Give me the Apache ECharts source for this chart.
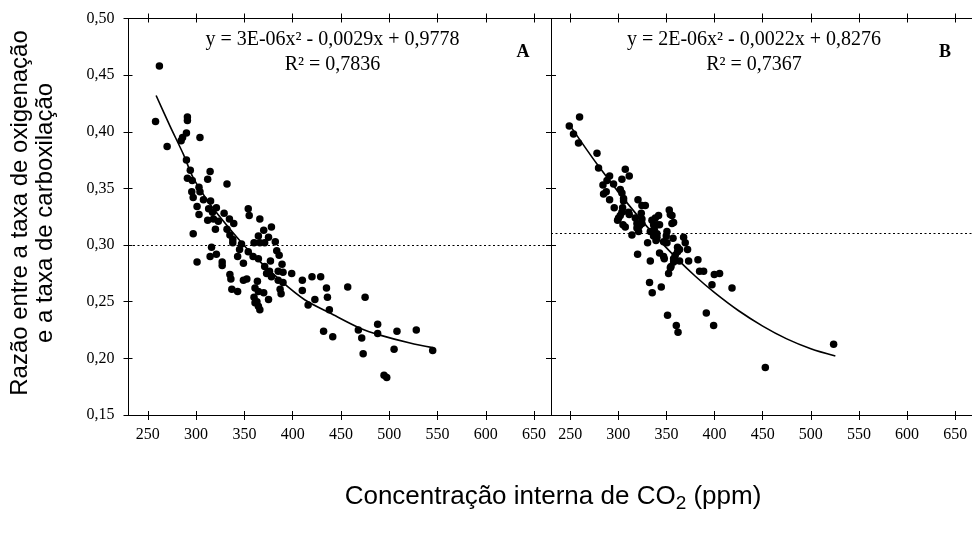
<!DOCTYPE html>
<html>
<head>
<meta charset="utf-8">
<script src="https://cdn.jsdelivr.net/npm/echarts@6/dist/echarts.min.js"></script>
<style>
  html, body { margin: 0; padding: 0; background: #fff; }
  #chart { width: 972px; height: 536px; }
</style>
</head>
<body>
<div id="chart"></div>
<script>
// Tick values shared by both panels
const xTicks = [250, 300, 350, 400, 450, 500, 550, 600, 650];
const yTicks = [0.15, 0.20, 0.25, 0.30, 0.35, 0.40, 0.45, 0.50];

// Panel A: internal CO2 concentration (ppm) and oxygenation/carboxylation ratio
const ciA = [
  262, 258, 291, 291, 290, 286, 284.5, 304, 270, 290,
  294, 314.5, 291, 296, 312, 332, 303, 295.5, 304, 297,
  307.6, 315, 301, 313, 321, 317, 303, 329, 354, 355,
  312, 318, 323, 334.5, 339, 366, 320, 332, 370, 378,
  335, 338, 364.5, 375, 297, 338, 347, 360, 366, 371,
  382, 316, 345, 354, 314.5, 321, 343, 359, 364.5, 383.5,
  386, 301, 327, 327, 349, 371, 377, 389, 335, 336,
  349, 352.5, 363.5, 373, 376, 378, 385, 390, 399, 385,
  390, 410, 420, 429, 337, 343, 361, 364.5, 370, 387,
  388, 410, 435, 457, 360, 363, 375, 364.5, 436, 423,
  475, 361, 416, 366, 438, 432, 441.5, 468, 471.5, 488,
  488, 508, 473, 505, 528, 545, 494.6, 497.4
];
const ratioA = [
  0.458, 0.409, 0.413, 0.410, 0.399, 0.395, 0.392, 0.395, 0.387, 0.375,
  0.366, 0.365, 0.359, 0.357, 0.358, 0.354, 0.351, 0.347, 0.347, 0.342,
  0.340, 0.339, 0.334, 0.332, 0.333, 0.329, 0.327, 0.328, 0.332, 0.326,
  0.322, 0.323, 0.321, 0.323, 0.319, 0.323, 0.314, 0.314, 0.313, 0.316,
  0.309, 0.305, 0.308, 0.307, 0.310, 0.302, 0.301, 0.302, 0.302, 0.302,
  0.303, 0.298, 0.296, 0.294, 0.290, 0.292, 0.290, 0.290, 0.288, 0.295,
  0.291, 0.285, 0.285, 0.282, 0.284, 0.281, 0.286, 0.283, 0.274, 0.270,
  0.269, 0.270, 0.268, 0.275, 0.277, 0.272, 0.277, 0.276, 0.275, 0.269,
  0.267, 0.269, 0.272, 0.272, 0.261, 0.259, 0.262, 0.259, 0.258, 0.261,
  0.257, 0.260, 0.262, 0.263, 0.254, 0.250, 0.252, 0.246, 0.254, 0.252,
  0.254, 0.249, 0.247, 0.243, 0.243, 0.224, 0.219, 0.225, 0.218, 0.230,
  0.222, 0.224, 0.204, 0.208, 0.225, 0.207, 0.185, 0.183
];

// Panel B
const ciB = [
  259.7, 249, 253.4, 258.6, 277.8, 279.4, 307.2, 311.3, 290.9, 288.2,
  303.7, 284, 295, 302, 303.7, 284.6, 287.4, 305.4, 305.4, 290.9,
  320.4, 324.5, 328, 295.7, 304.4, 310.6, 311.3, 303.7, 302, 323.8,
  300.2, 299.2, 317.6, 324.5, 334.9, 338.4, 341.8, 352.9, 354, 355.7,
  304.8, 307.2, 319.3, 322, 324.5, 336.6, 340.1, 342.8, 355.7, 357.4,
  319.3, 321, 333.2, 337.3, 340.1, 350.5, 314.1, 336.6, 340.1, 349.8,
  356.8, 367.8, 339.1, 330.4, 347, 350.5, 369.5, 361.5, 363.6, 371.9,
  320, 342.8, 347, 361.5, 359.1, 357.4, 347.7, 333.2, 357.4, 363.6,
  373, 382.7, 354.7, 354, 352.2, 384.4, 388.6, 399.7, 405.2, 332.4,
  344.6, 397.3, 418.1, 335.2, 351.1, 391.4, 360.2, 362, 399, 452.7, 523.7
];
const ratioB = [
  0.413, 0.405, 0.398, 0.390, 0.381, 0.368, 0.367, 0.361, 0.361, 0.357,
  0.358, 0.353, 0.354, 0.349, 0.346, 0.345, 0.347, 0.341, 0.339, 0.340,
  0.340, 0.335, 0.335, 0.333, 0.333, 0.329, 0.327, 0.329, 0.326, 0.328,
  0.324, 0.322, 0.324, 0.323, 0.322, 0.324, 0.326, 0.331, 0.327, 0.326,
  0.318, 0.316, 0.319, 0.317, 0.319, 0.318, 0.318, 0.318, 0.319, 0.320,
  0.315, 0.312, 0.312, 0.314, 0.310, 0.312, 0.309, 0.308, 0.307, 0.308,
  0.306, 0.307, 0.304, 0.302, 0.303, 0.302, 0.302, 0.298, 0.296, 0.296,
  0.292, 0.293, 0.290, 0.294, 0.291, 0.288, 0.288, 0.286, 0.285, 0.286,
  0.286, 0.287, 0.281, 0.280, 0.275, 0.277, 0.277, 0.274, 0.275, 0.267,
  0.263, 0.265, 0.262, 0.258, 0.238, 0.240, 0.229, 0.223, 0.229, 0.192, 0.2125
];

// Trend curves, as points along each fitted line
const trendCiA = [258.6, 273, 286.9, 297.2, 314.5, 335.2, 355.9, 387, 412.8, 438.7, 469.8, 490.5, 521.5, 545];
const trendRatioA = [0.432, 0.405, 0.380, 0.359, 0.336, 0.314, 0.294, 0.269, 0.2515, 0.240, 0.2266, 0.2205, 0.2135, 0.2095];
const trendCiB = [251.8, 277.8, 305.4, 333.2, 360.9, 380, 400, 425, 450, 475, 500, 525.5];
const trendRatioB = [0.403, 0.3715, 0.341, 0.313, 0.288, 0.2725, 0.258, 0.242, 0.2285, 0.2172, 0.2085, 0.202];

// Horizontal reference levels (dotted lines)
const refRatioA = 0.297;
const refRatioB = 0.311;

// Regression annotations
const eqA = ['y = 3E-06x² - 0,0029x + 0,9778', 'R² = 0,7836'];
const eqB = ['y = 2E-06x² - 0,0022x + 0,8276', 'R² = 0,7367'];
const panelTags = ['A', 'B'];

const yTitle = 'Razão entre a taxa de oxigenação\ne a taxa de carboxilação';

const zip = (a, b) => a.map((v, i) => [v, b[i]]);

const BLACK = '#000';
const SERIF = 'Liberation Serif';
const SANS = 'Liberation Sans';
const X_MIN = 230, X_MAX = 667.5;
const Y_MIN = 0.15, Y_MAX = 0.50;

const grids = [
  { left: 128.5, top: 18.5, width: 422.5, height: 396.5 },
  { left: 551, top: 18.5, width: 421, height: 396.5 }
];

// Ticks that cross the axis line are built from an outward and an inward axis pair
function xAxisPair(grid, position, labels) {
  const base = {
    type: 'value', gridIndex: grid, position, min: X_MIN, max: X_MAX,
    splitLine: { show: false }
  };
  return [
    Object.assign({}, base, {
      axisLine: { show: true, onZero: false, lineStyle: { color: BLACK, width: 1 } },
      axisTick: { show: true, inside: false, length: 5, customValues: xTicks, lineStyle: { color: BLACK } },
      axisLabel: labels
        ? { show: true, customValues: xTicks, margin: 12, color: BLACK, fontFamily: SERIF, fontSize: 16 }
        : { show: false }
    }),
    Object.assign({}, base, {
      axisLine: { show: false, onZero: false },
      axisTick: { show: true, inside: true, length: 4, customValues: xTicks, lineStyle: { color: BLACK } },
      axisLabel: { show: false }
    })
  ];
}

function yAxisPair(grid, position, labels) {
  const base = {
    type: 'value', gridIndex: grid, position, min: Y_MIN, max: Y_MAX,
    splitLine: { show: false }
  };
  return [
    Object.assign({}, base, {
      axisLine: { show: true, onZero: false, lineStyle: { color: BLACK, width: 1 } },
      axisTick: { show: true, inside: false, length: 5, customValues: yTicks, lineStyle: { color: BLACK } },
      axisLabel: labels
        ? {
            show: true, customValues: yTicks, margin: 14, color: BLACK, fontFamily: SERIF, fontSize: 16,
            formatter: v => v.toFixed(2).replace('.', ',')
          }
        : { show: false }
    }),
    Object.assign({}, base, {
      axisLine: { show: false, onZero: false },
      axisTick: { show: true, inside: true, length: 4, customValues: yTicks, lineStyle: { color: BLACK } },
      axisLabel: { show: false }
    })
  ];
}

const xAxes = [
  ...xAxisPair(0, 'bottom', true), ...xAxisPair(0, 'top', false),
  ...xAxisPair(1, 'bottom', true), ...xAxisPair(1, 'top', false)
];
const yAxes = [
  ...yAxisPair(0, 'left', true), ...yAxisPair(0, 'right', false),
  ...yAxisPair(1, 'left', false)
];

function panelSeries(xIdx, yIdx, xs, ys, tx, ty, ref) {
  return [
    {
      type: 'line', xAxisIndex: xIdx, yAxisIndex: yIdx,
      data: zip(tx, ty), showSymbol: false, smooth: 0.3,
      lineStyle: { color: BLACK, width: 1.6 }, silent: true
    },
    {
      type: 'scatter', xAxisIndex: xIdx, yAxisIndex: yIdx,
      data: zip(xs, ys), symbol: 'circle', symbolSize: 7.5,
      itemStyle: { color: BLACK, opacity: 1 }, silent: true,
      markLine: {
        silent: true, symbol: ['none', 'none'], animation: false,
        label: { show: false },
        lineStyle: { color: BLACK, width: 1, type: [2, 2.5] },
        data: [{ yAxis: ref }]
      }
    }
  ];
}

const chart = echarts.init(document.getElementById('chart'), null, { renderer: 'canvas' });

const textEl = (x, y, text, font) => ({
  type: 'text', x, y, silent: true,
  style: { text, fill: BLACK, textAlign: 'center', textVerticalAlign: 'middle', font }
});

chart.setOption({
  animation: false,
  backgroundColor: '#fff',
  grid: grids,
  xAxis: xAxes,
  yAxis: yAxes,
  series: [
    ...panelSeries(0, 0, ciA, ratioA, trendCiA, trendRatioA, refRatioA),
    ...panelSeries(4, 4, ciB, ratioB, trendCiB, trendRatioB, refRatioB)
  ],
  graphic: [
    textEl(332.5, 40, eqA[0], `20px "${SERIF}"`),
    textEl(332.5, 65, eqA[1], `20px "${SERIF}"`),
    textEl(523, 52, panelTags[0], `bold 18px "${SERIF}"`),
    textEl(754, 40, eqB[0], `20px "${SERIF}"`),
    textEl(754, 65, eqB[1], `20px "${SERIF}"`),
    textEl(945, 52, panelTags[1], `bold 18px "${SERIF}"`),
    {
      type: 'text', x: 33, y: 213, rotation: Math.PI / 2, silent: true,
      style: {
        text: yTitle, fill: BLACK, textAlign: 'center', textVerticalAlign: 'middle',
        font: `24px "${SANS}"`, lineHeight: 25
      }
    },
    {
      type: 'text', x: 553, y: 497, silent: true,
      style: {
        text: '{a|Concentração interna de CO}{s|2}{a| (ppm)}',
        textAlign: 'center', textVerticalAlign: 'middle',
        rich: {
          a: { fontFamily: SANS, fontSize: 26, color: BLACK, lineHeight: 32 },
          s: { fontFamily: SANS, fontSize: 19, color: BLACK, lineHeight: 32, padding: [13, 0, 0, 0] }
        }
      }
    }
  ]
});
</script>
</body>
</html>
